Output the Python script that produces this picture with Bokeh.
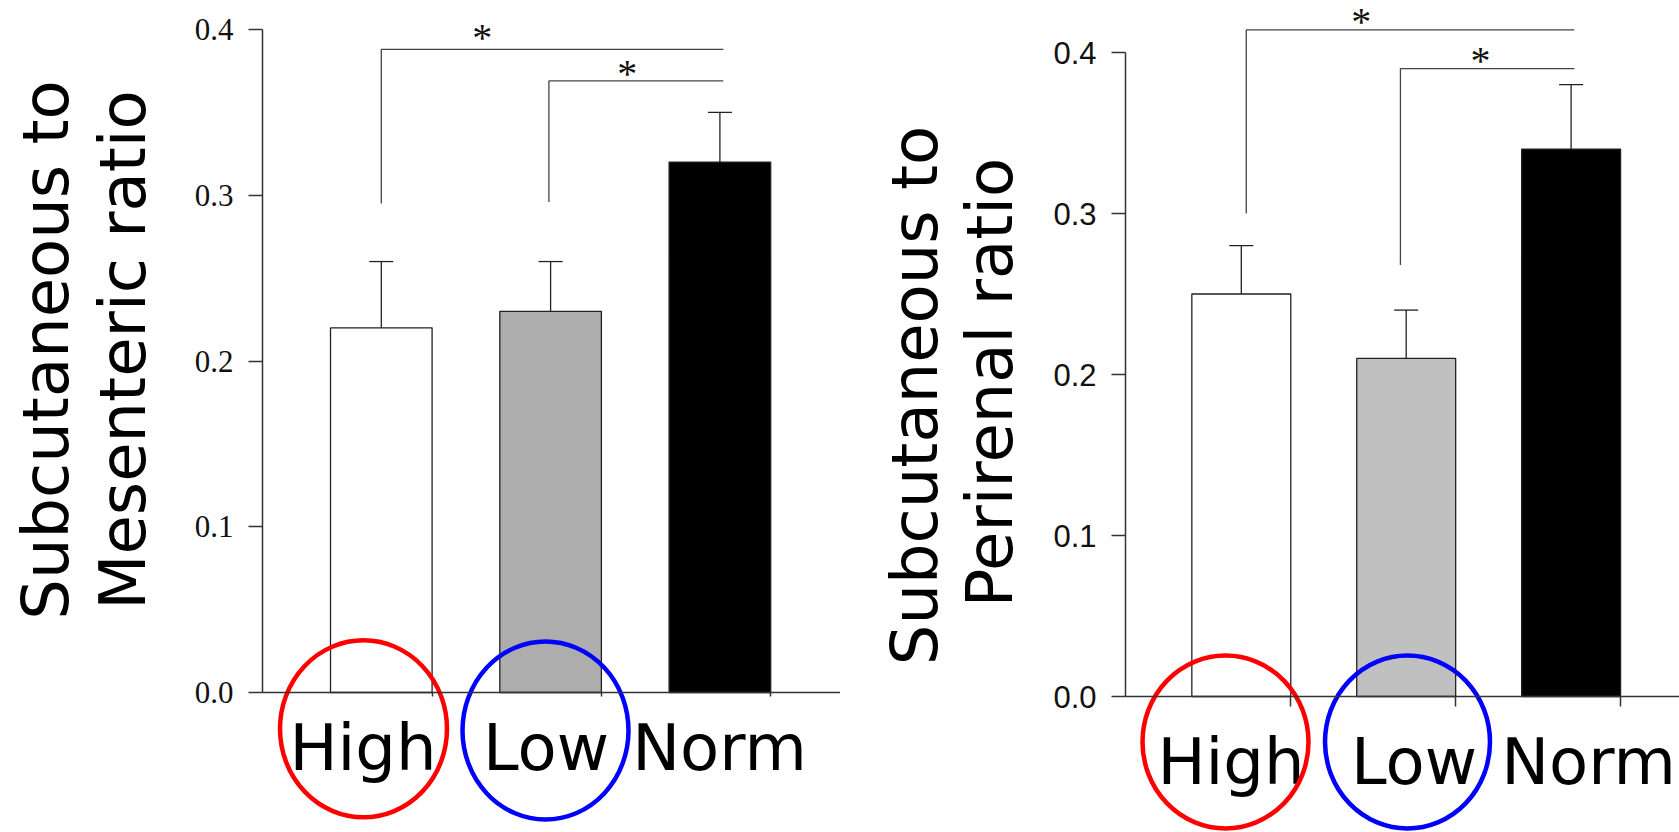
import math
from bokeh.plotting import figure
from bokeh.models import Range1d, FixedTicker
from bokeh.layouts import row
from bokeh.embed import file_html
from bokeh.resources import INLINE
from bokeh.core.properties import value

# ---------------- data ----------------
categories = ["High", "Low", "Norm"]

mes_means = [0.22, 0.23, 0.32]
mes_errs = [0.04, 0.03, 0.03]

per_means = [0.25, 0.21, 0.34]
per_errs = [0.03, 0.03, 0.04]

y_ticks = [0.0, 0.1, 0.2, 0.3, 0.4]
y_tick_labels = ["0.0", "0.1", "0.2", "0.3", "0.4"]

# significance brackets (category index from/to, top level, base of left leg)
mes_br_from = [0.0, 0.99]
mes_br_to = [2.02, 2.02]
mes_br_top = [0.388, 0.369]
mes_br_base = [0.295, 0.296]
mes_star_x = [0.596, 1.453]
mes_star_y = [0.398, 0.376]

per_br_from = [0.03, 0.965]
per_br_to = [2.02, 2.02]
per_br_top = [0.414, 0.39]
per_br_base = [0.30, 0.268]
per_star_x = [0.728, 1.45]
per_star_y = [0.422, 0.398]

BAR_W = 0.6
H = 832
BASE_FIX = 0.35   # em correction for the alphabetic baseline of text glyphs


def make_panel(cfg, means, errs, br_from, br_to, br_top, br_base, star_x, star_y):
    W = cfg["width"]
    c0, unit, zero, k = cfg["c0"], cfg["unit"], cfg["zero"], cfg["k"]

    def dx(px):
        return (px - c0) / unit

    def dy(py):
        return (zero - py) / k

    p = figure(width=W, height=H, output_backend="svg", toolbar_location=None,
               x_range=Range1d(dx(0), dx(W)), y_range=Range1d(dy(H), dy(0)),
               min_border=0, min_border_left=0, min_border_right=0,
               min_border_top=0, min_border_bottom=0)
    p.outline_line_color = None
    p.grid.visible = False
    p.background_fill_color = "white"
    p.border_fill_color = "white"

    xs = list(range(len(categories)))

    # bars
    p.vbar(x=xs, top=means, bottom=0, width=BAR_W, fill_color=cfg["fills"],
           line_color=cfg["bar_line"], line_width=1.3)

    # error bars (upper only)
    uppers = [m + e for m, e in zip(means, errs)]
    p.segment(x0=xs, y0=means, x1=xs, y1=uppers, line_color="#222222", line_width=1.3)
    p.scatter(x=xs, y=uppers, marker="dash", size=24, line_color="#222222", line_width=1.3)

    # significance brackets
    bxs = [[a, a, b] for a, b in zip(br_from, br_to)]
    bys = [[lo, hi, hi] for lo, hi in zip(br_base, br_top)]
    p.multi_line(xs=bxs, ys=bys, line_color="#444444", line_width=1.3)
    star_size = 40
    p.text(x=star_x, y=star_y, text=["*"] * len(star_x),
           text_font=value("Liberation Serif"), text_font_size=value(f"{star_size}px"),
           text_align="center", text_baseline="alphabetic",
           y_offset=star_size * (0.466 - BASE_FIX), text_color="#111111")

    # axes
    p.yaxis.fixed_location = dx(cfg["axis_px"])
    p.yaxis.bounds = (y_ticks[0], y_ticks[-1])
    p.yaxis.ticker = FixedTicker(ticks=y_ticks, minor_ticks=[])
    p.yaxis.major_label_overrides = dict(zip(y_ticks, y_tick_labels))
    p.yaxis.major_label_text_font = cfg["tick_font"]
    p.yaxis.major_label_text_font_size = "31px"
    p.yaxis.major_label_text_color = "#111111"
    p.yaxis.major_label_standoff = 15
    p.yaxis.major_tick_in = 0
    p.yaxis.major_tick_out = 14
    p.yaxis.minor_tick_line_color = None
    p.yaxis.axis_line_color = "#333333"
    p.yaxis.axis_line_width = 1.5
    p.yaxis.major_tick_line_color = "#333333"
    p.yaxis.major_tick_line_width = 1.5

    x_ticks = [i + BAR_W / 2 for i in xs]
    p.xaxis.fixed_location = 0
    p.xaxis.bounds = (dx(cfg["axis_px"]), dx(W))
    p.xaxis.ticker = FixedTicker(ticks=x_ticks, minor_ticks=[])
    p.xaxis.major_label_overrides = {t: "" for t in x_ticks}
    p.xaxis.major_tick_in = 0
    p.xaxis.major_tick_out = cfg["x_tick_out"]
    p.xaxis.minor_tick_line_color = None
    p.xaxis.axis_line_color = "#333333"
    p.xaxis.axis_line_width = 1.5
    p.xaxis.major_tick_line_color = "#333333"
    p.xaxis.major_tick_line_width = 1.5

    big = 64
    fix = big * BASE_FIX
    # y-axis title (two lines, rotated)
    p.text(x=[dx(v - fix) for v in cfg["ylab_x"]], y=[dy(v) for v in cfg["ylab_y"]],
           text=cfg["ylab"], angle=math.pi / 2,
           text_font=value("DejaVu Sans"), text_font_size=value(f"{big}px"),
           text_align="center", text_baseline="alphabetic", text_color="black")

    # category labels
    p.text(x=[dx(v) for v in cfg["label_px"]], y=[dy(cfg["label_base"] - fix)] * 3,
           text=categories, text_font=value("DejaVu Sans"),
           text_font_size=value(f"{big}px"), text_align="center",
           text_baseline="alphabetic", text_color="black")

    # highlight circles
    for (cx, cy, w, h, col) in cfg["circles"]:
        p.ellipse(x=[dx(cx)], y=[dy(cy)], width=w, height=h,
                  width_units="screen", height_units="screen",
                  fill_color=None, line_color=col, line_width=4.5)
    return p


left_cfg = dict(width=840, c0=380.8, unit=169.3, zero=692, k=1657.5, axis_px=262,
                tick_font="Liberation Serif", x_tick_out=4,
                fills=["white", "#adadad", "black"], bar_line="#222222",
                ylab=["Subcutaneous to", "Mesenteric ratio"],
                ylab_x=[68, 145], ylab_y=[349.5, 349.5],
                label_px=[362.5, 545.5, 719], label_base=770,
                circles=[(363, 728.3, 167, 177, "#ff0000"),
                         (545, 730, 166, 178, "#0000ff")])

right_cfg = dict(width=839, c0=400.8, unit=164.9, zero=696, k=1610, axis_px=285,
                 tick_font="Liberation Sans", x_tick_out=10,
                 fills=["white", "#c0c0c0", "black"], bar_line="#222222",
                 ylab=["Subcutaneous to", "Perirenal ratio"],
                 ylab_x=[96.7, 171.7], ylab_y=[395, 382],
                 label_px=[390.5, 573.5, 748], label_base=783.5,
                 circles=[(385, 741.5, 166, 173, "#ff0000"),
                          (567, 741.5, 165, 173, "#0000ff")])

p1 = make_panel(left_cfg, mes_means, mes_errs, mes_br_from, mes_br_to,
                mes_br_top, mes_br_base, mes_star_x, mes_star_y)
p2 = make_panel(right_cfg, per_means, per_errs, per_br_from, per_br_to,
                per_br_top, per_br_base, per_star_x, per_star_y)

layout = row(p1, p2, spacing=0)
open("out.html", "w").write(file_html(layout, INLINE))
